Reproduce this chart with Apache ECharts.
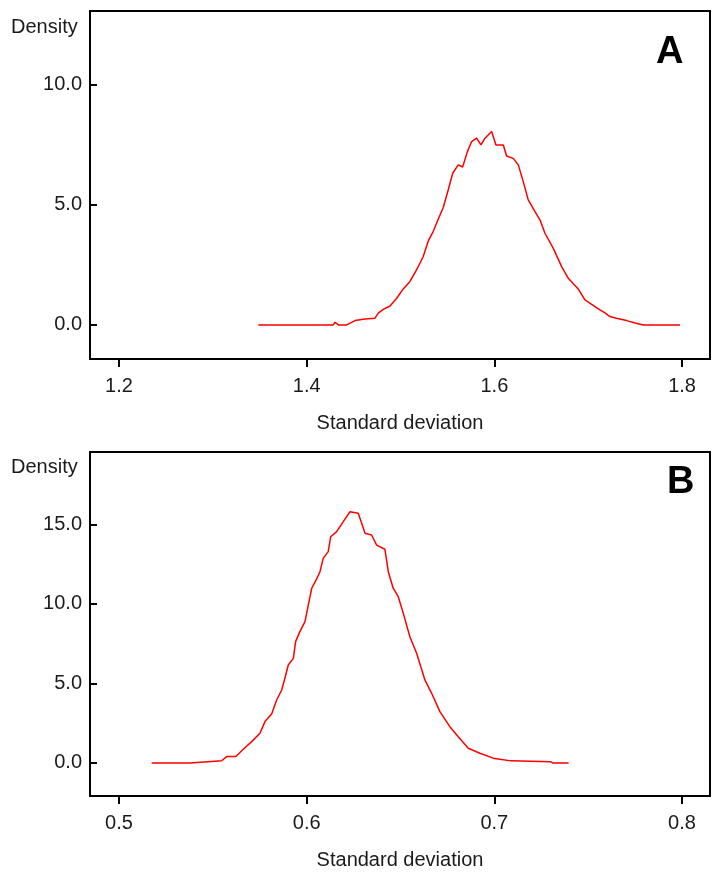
<!DOCTYPE html>
<html>
<head>
<meta charset="utf-8">
<script src="https://cdn.jsdelivr.net/npm/echarts@6/dist/echarts.min.js"></script>
<style>
  html, body { margin: 0; padding: 0; background: #fff; }
  #chart { width: 714px; height: 874px; }
</style>
</head>
<body>
<div id="chart"></div>
<script>
// panel A: posterior density of the standard deviation
const sdA = [1.3484, 1.4283, 1.4302, 1.4337, 1.4426, 1.4515, 1.4621, 1.4728, 1.4763, 1.4816,
  1.4888, 1.4959, 1.5029, 1.5101, 1.5172, 1.5242, 1.5296, 1.5349, 1.5402, 1.5456,
  1.5509, 1.5556, 1.5615, 1.5662, 1.5711, 1.5758, 1.5811, 1.5857, 1.5900, 1.5971,
  1.6017, 1.6095, 1.6131, 1.6201, 1.6255, 1.6308, 1.6361, 1.6433, 1.6486, 1.6539,
  1.6628, 1.6717, 1.6788, 1.6894, 1.6965, 1.7037, 1.7125, 1.7178, 1.7232, 1.7300,
  1.7410, 1.7500, 1.7587, 1.7978];
const densA = [0, 0, 0.11, 0, 0, 0.18, 0.25, 0.28, 0.49, 0.65,
  0.79, 1.11, 1.5, 1.81, 2.3, 2.85, 3.5, 3.9, 4.4, 4.9,
  5.63, 6.32, 6.67, 6.58, 7.2, 7.64, 7.78, 7.5, 7.78, 8.06,
  7.5, 7.5, 7.04, 6.94, 6.67, 5.97, 5.21, 4.72, 4.38, 3.82,
  3.19, 2.43, 1.94, 1.5, 1.04, 0.86, 0.63, 0.5, 0.35, 0.28,
  0.18, 0.08, 0, 0];

// panel B
const sdB = [0.5174, 0.5378, 0.5380, 0.5547, 0.5574, 0.5623, 0.5662, 0.5707, 0.5751, 0.5778,
  0.5814, 0.5840, 0.5867, 0.5884, 0.5902, 0.5929, 0.5941, 0.5964, 0.5991, 0.6009,
  0.6027, 0.6050, 0.6071, 0.6088, 0.6115, 0.6128, 0.6160, 0.6195, 0.6231, 0.6275,
  0.6311, 0.6346, 0.6373, 0.6417, 0.6435, 0.6461, 0.6488, 0.6515, 0.6550, 0.6586,
  0.6630, 0.6666, 0.6710, 0.6763, 0.6808, 0.6861, 0.6923, 0.6994, 0.7030, 0.7088,
  0.7299, 0.7311, 0.7396];
const densB = [0, 0, 0.08, 0.14, 0.4, 0.4, 0.86, 1.34, 1.87, 2.6,
  3.1, 3.96, 4.59, 5.33, 6.16, 6.58, 7.63, 8.26, 8.89, 9.94,
  10.99, 11.5, 12.03, 12.87, 13.29, 14.23, 14.55, 15.18, 15.8, 15.7,
  14.45, 14.34, 13.7, 13.44, 12.03, 10.99, 10.46, 9.41, 7.94, 6.9,
  5.22, 4.38, 3.23, 2.28, 1.65, 0.92, 0.61, 0.3, 0.23, 0.13,
  0.08, 0, 0];

const ticksXA = [1.2, 1.4, 1.6, 1.8];
const ticksXB = [0.5, 0.6, 0.7, 0.8];
const ticksYA = [0, 5, 10];
const ticksYB = [0, 5, 10, 15];

const zip = (xs, ys) => xs.map((x, i) => [x, ys[i]]);
const FONT = 'Liberation Sans, Arial, sans-serif';
const INK = '#1a1a1a';
const FS = 20;

function xAxisFor(grid, min, max, ticks) {
  return {
    type: 'value', gridIndex: grid, min: min, max: max,
    name: 'Standard deviation', nameLocation: 'middle', nameGap: 54,
    nameTextStyle: { fontFamily: FONT, fontSize: FS, color: INK },
    axisLine: { show: true, onZero: false, lineStyle: { color: '#000', width: 2 } },
    axisTick: { show: true, inside: false, length: 8, customValues: ticks, lineStyle: { color: '#000', width: 2 } },
    axisLabel: { customValues: ticks, margin: 17, fontFamily: FONT, fontSize: FS, color: INK,
      formatter: v => v.toFixed(1) },
    splitLine: { show: false }
  };
}

function yAxisFor(grid, min, max, ticks) {
  return {
    type: 'value', gridIndex: grid, min: min, max: max,
    axisLine: { show: true, onZero: false, lineStyle: { color: '#000', width: 2 } },
    axisTick: { show: true, inside: true, length: 7, customValues: ticks, lineStyle: { color: '#000', width: 2 } },
    axisLabel: { customValues: ticks, margin: 8, fontFamily: FONT, fontSize: FS, color: INK,
      formatter: v => v.toFixed(1) },
    splitLine: { show: false }
  };
}

const chart = echarts.init(document.getElementById('chart'));
chart.setOption({
  animation: false,
  backgroundColor: '#fff',
  grid: [
    { left: 90, top: 11, width: 620, height: 348, show: true, borderColor: '#000', borderWidth: 2 },
    { left: 90, top: 452, width: 620, height: 344, show: true, borderColor: '#000', borderWidth: 2 }
  ],
  xAxis: [
    xAxisFor(0, 1.1691, 1.8298, ticksXA),
    xAxisFor(1, 0.48455, 0.81492, ticksXB)
  ],
  yAxis: [
    yAxisFor(0, -1.42, 13.08, ticksYA),
    yAxisFor(1, -2.08, 19.56, ticksYB)
  ],
  series: [
    { type: 'line', xAxisIndex: 0, yAxisIndex: 0, data: zip(sdA, densA), showSymbol: false,
      lineStyle: { color: '#ff0000', width: 1.5 } },
    { type: 'line', xAxisIndex: 1, yAxisIndex: 1, data: zip(sdB, densB), showSymbol: false,
      lineStyle: { color: '#ff0000', width: 1.5 } }
  ],
  graphic: [
    { type: 'text', left: 11, top: 17, style: { text: 'Density', fontFamily: FONT, fontSize: FS, fill: INK } },
    { type: 'text', left: 11, top: 457, style: { text: 'Density', fontFamily: FONT, fontSize: FS, fill: INK } },
    { type: 'text', left: 656, top: 34, style: { text: 'A', fontFamily: FONT, fontSize: 38, fontWeight: 'bold', fill: '#000' } },
    { type: 'text', left: 667, top: 464, style: { text: 'B', fontFamily: FONT, fontSize: 38, fontWeight: 'bold', fill: '#000' } }
  ]
});
</script>
</body>
</html>
